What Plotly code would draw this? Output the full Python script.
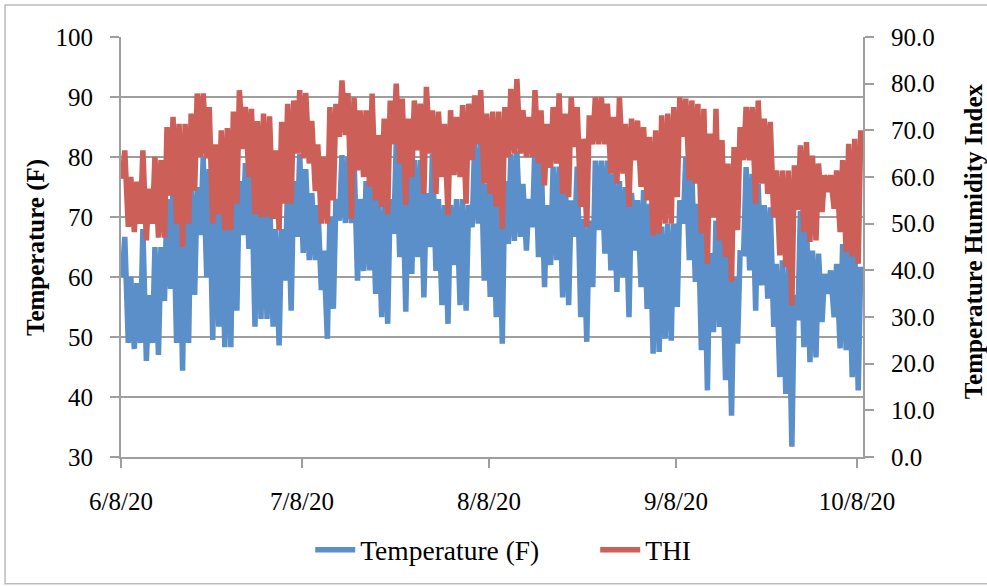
import pandas as pd
import plotly.graph_objects as go

# Daily readings, day 0 = 6/8/20
start_date = "2020-06-08"
temp_max = [66.7, 60, 59, 68, 57, 65, 65, 73, 75.5, 75, 72, 75, 75, 80, 78, 77, 75, 75, 75, 76,
            79, 78, 76, 74, 74, 68, 68, 75.5, 76, 80.5, 78, 74, 72, 64.4, 70, 73, 80.3, 80, 80, 73,
            76, 77.2, 73, 72, 73, 82.2, 79, 77, 79.5, 79.5, 74, 80.5, 73, 72, 72, 73, 73, 72, 82.2, 82.8,
            75.5, 75, 75, 76, 80.5, 81, 75.5, 73, 82.2, 81.5, 72, 78.4, 78.4, 77.8, 72.8, 78.4, 69.7, 69.4, 79.4, 79.4,
            79.4, 77.2, 76, 75, 74, 72.8, 74.5, 72.2, 70, 68.4, 68.9, 68.9, 72.8, 80, 77.2, 72.2, 69.4, 64, 69.4, 67.2,
            64, 60, 64, 78.3, 77.2, 75.5, 72, 71.6, 62.2, 62.8, 61.7, 57, 71, 70, 64.4, 63.9, 60.5, 61.1, 62.2, 65.5,
            67.2, 65, 61.7]
temp_min = [60, 49, 48, 49, 46, 49, 47, 56, 58, 49, 44.4, 49, 57, 67, 60, 49.5, 51.7, 48.3, 48.3, 54.4,
            67, 64.7, 51.7, 53, 53, 51.7, 48.6, 59.4, 54.4, 66.7, 64, 62.8, 62.8, 57.8, 49.7, 54.7, 69.4, 69, 69, 59.4,
            61, 61.1, 57.2, 53.3, 52.2, 67.2, 63.3, 54.2, 60.5, 63.3, 56.6, 65, 61, 55.3, 52.2, 62, 55.3, 54.4, 68.3, 68.9,
            59.4, 56.7, 53.3, 48.9, 65.5, 66, 66.7, 64.4, 68.3, 63.3, 58.3, 62, 62.8, 56.6, 55.3, 66.7, 53.3, 49.2, 58.3, 67.8,
            63.9, 61.1, 57.5, 60, 53.3, 64.4, 58.3, 54.7, 47.2, 47.5, 49.7, 49.4, 55, 68.9, 62.8, 59.2, 47.8, 41.1, 50.8, 51.7,
            42.8, 36.9, 48.9, 63.9, 61.1, 54.4, 58.6, 56.4, 51.7, 43.3, 40.5, 31.7, 52.8, 48.3, 45.8, 46.6, 52.5, 57.2, 53.3, 48.1,
            47.8, 43.3, 41.1]
thi_max = [65.7, 60, 59, 65.7, 57.5, 64.3, 63.6, 70.7, 72.9, 71.4, 71.4, 73.6, 77.9, 77.9, 75, 67, 70, 70.5, 74, 78.6,
           75, 74.6, 72, 73.6, 73, 65.7, 71.8, 75.7, 76.4, 78.6, 78, 72, 67, 64.3, 75, 75.7, 80.7, 78, 77, 74.3,
           74.3, 77.9, 69, 72.5, 76.4, 80, 76.8, 72.5, 76.4, 75.7, 79.3, 74.3, 74, 71.4, 74.3, 72.9, 75.4, 75.7, 77.5, 78.6,
           73.6, 74, 74, 75, 78.9, 81, 74.3, 72.9, 78.6, 74.3, 71.4, 75, 77.9, 73.6, 77.1, 75, 68.2, 73.2, 77.1, 77.1,
           75.7, 72.9, 77.1, 71.4, 72.5, 72.1, 70.7, 68.6, 70, 73.2, 73.6, 75, 77.1, 76.8, 76.4, 75.7, 74.6, 69.3, 74.6, 67.9,
           62.9, 66.4, 70.7, 75, 75, 76.4, 72.5, 71.8, 61.4, 61.4, 61.4, 62.5, 66.8, 67.5, 64.6, 62.9, 60.4, 60.4, 61.4, 63.6,
           67.1, 68.2, 70]
thi_min = [59.6, 49.3, 48.2, 50, 46.4, 50, 47, 47, 56, 50, 45, 50, 57, 64.3, 64, 50, 52, 48.6, 48.6, 54.3,
           66, 60, 52, 51.4, 51.4, 51, 48.6, 54.3, 54.3, 65, 64, 62.9, 57, 50, 50, 55, 68.6, 69, 51, 61.4,
           60, 57.9, 55, 53.6, 52, 67, 62.9, 54, 60, 65.7, 56.4, 65, 56.4, 60, 51.8, 60.4, 60, 54.3, 63.6, 67,
           58.6, 56.4, 53.6, 48.9, 64.3, 65, 65, 64.3, 64.3, 62.9, 58.2, 62, 62.9, 56.4, 55.7, 66.4, 53.6, 49.3, 67, 67,
           67, 60.7, 58.6, 60.7, 53.6, 63.6, 57.9, 55, 47.5, 47.9, 50, 50, 55.7, 68.6, 59.3, 58.6, 47.9, 41.4, 51.4, 46.4,
           42.9, 37.5, 48.6, 63.6, 63.6, 54.3, 58.6, 56.4, 51.4, 43.2, 40.7, 32.5, 53, 48.2, 46.1, 46.4, 52.5, 56.8, 53.2, 48.2,
           43.9, 43, 41.4]

tick_dates = ["2020-06-08", "2020-07-08", "2020-08-08", "2020-09-08", "2020-10-08"]
tick_labels = ["6/8/20", "7/8/20", "8/8/20", "9/8/20", "10/8/20"]

# Build time series: daily minimum early morning, maximum mid-afternoon
base = pd.Timestamp(start_date)
times, temp, thi = [], [], []
for i in range(len(temp_max)):
    day = base + pd.Timedelta(days=i)
    times += [day + pd.Timedelta(hours=5), day + pd.Timedelta(hours=15)]
    temp += [temp_min[i], temp_max[i]]
    thi += [thi_min[i], thi_max[i]]

FONT = "Liberation Serif"
GRID = "#9E9E9E"

fig = go.Figure()
fig.add_trace(go.Scatter(x=times, y=temp, mode="lines", name="Temperature (F)",
                         line=dict(color="#5B8FC9", width=5.5)))
fig.add_trace(go.Scatter(x=times, y=thi, mode="lines", name="THI", yaxis="y2",
                         line=dict(color="#CC5F57", width=5.5)))

fig.update_layout(
    width=987, height=586,
    margin=dict(l=121, r=124, t=37, b=129),
    paper_bgcolor="white", plot_bgcolor="white",
    font=dict(family=FONT, size=25, color="black"),
    showlegend=True,
    legend=dict(orientation="h", x=0.255, y=-0.221, xanchor="left", yanchor="middle",
                font=dict(family=FONT, size=27.5), itemwidth=40, tracegroupgap=0,
                entrywidth=230),
    xaxis=dict(type="date", range=["2020-06-08", "2020-10-09"],
               tickmode="array", tickvals=tick_dates, ticktext=tick_labels,
               ticks="outside", ticklen=9, tickcolor=GRID, tickwidth=2,
               showline=True, linecolor=GRID, linewidth=2, showgrid=False,
               zeroline=False, ticklabelstandoff=12),
    yaxis=dict(range=[30, 100], dtick=10, tick0=30,
               ticks="outside", ticklen=9, tickcolor=GRID, tickwidth=2,
               showline=True, linecolor=GRID, linewidth=2,
               showgrid=True, gridcolor=GRID, gridwidth=2, zeroline=False,
               ticklabelstandoff=12),
    yaxis2=dict(range=[0, 90], dtick=10, tick0=0, tickformat=".1f", overlaying="y", side="right",
                ticks="outside", ticklen=9, tickcolor=GRID, tickwidth=2,
                showline=True, linecolor=GRID, linewidth=2, showgrid=False, zeroline=False,
                ticklabelstandoff=12),
    annotations=[
        dict(text="Temperature (F)", textangle=-90, xref="paper", yref="paper",
             x=-0.1146, y=0.5, xanchor="center", yanchor="middle", showarrow=False,
             font=dict(family=FONT, size=25, weight="bold")),
        dict(text="Temperature Humidity Index", textangle=-90, xref="paper", yref="paper",
             x=1.1485, y=0.514, xanchor="center", yanchor="middle", showarrow=False,
             font=dict(family=FONT, size=25, weight="bold")),
    ],
    shapes=[dict(type="rect", xref="paper", yref="paper", x0=-0.1563, x1=1.2, y0=-0.302, y1=1.076,
                 line=dict(color="#BBBBBB", width=1.5), layer="below")],
)

fig.write_html("out.html")
